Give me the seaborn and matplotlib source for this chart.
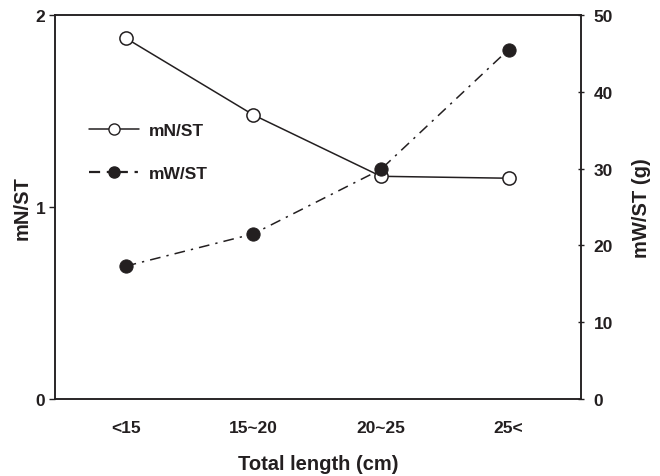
import pandas as pd
import seaborn as sns
import matplotlib.pyplot as plt
from matplotlib.lines import Line2D

# Data
length_classes = ['<15', '15~20', '20~25', '25<']
mn_st = [1.88, 1.48, 1.16, 1.15]
mw_st = [17.3, 21.5, 29.9, 45.5]

df = pd.DataFrame({'length': length_classes, 'mN/ST': mn_st, 'mW/ST': mw_st})

sns.set_style('white')
plt.rcParams['font.family'] = ['Liberation Sans', 'DejaVu Sans']
plt.rcParams['font.weight'] = 'bold'
ink = '#231f20'

fig = plt.figure(figsize=(6.6, 4.77), dpi=100)
ax = fig.add_axes([0.0833, 0.1614, 0.797, 0.805])
ax2 = ax.twinx()

# mN/ST, solid line with open circles
sns.lineplot(data=df, x='length', y='mN/ST', ax=ax, color=ink, lw=1.1,
             marker='o', markersize=9.5, markerfacecolor='white',
             markeredgecolor=ink, markeredgewidth=1.1, zorder=3)

# mW/ST, dash-dot line with filled circles
sns.lineplot(data=df, x='length', y='mW/ST', ax=ax2, color=ink, lw=1.1,
             marker='o', markersize=9.5, markerfacecolor=ink,
             markeredgecolor=ink, zorder=3)
ax2.lines[0].set_dashes([7, 4, 1.5, 4])

ax.set_xlim(-0.554, 3.568)
ax.set_ylim(0, 2)
ax2.set_ylim(0, 50)
ax.set_yticks([0, 1, 2])
ax2.set_yticks(range(0, 51, 10))

# categories as labels, ticks at the class boundaries
ax.set_xticks(range(len(length_classes)))
ax.set_xticklabels(length_classes)
ax.set_xticks([0.46, 1.5, 2.49], minor=True)
ax.tick_params(axis='x', which='major', length=0, pad=15, labelsize=12.5, colors=ink)
ax.tick_params(axis='x', which='minor', direction='in', length=4, width=1, color=ink)
ax.tick_params(axis='y', direction='out', length=4, width=1, pad=3, labelsize=12.5,
               colors=ink, left=True)
ax2.tick_params(axis='y', direction='inout', length=4, width=1, pad=7, labelsize=12.5,
                colors=ink, right=True)

ax.set_xlabel('Total length (cm)', fontsize=14.5, fontweight='bold', color=ink, labelpad=14)
ax.set_ylabel('mN/ST', fontsize=14.5, fontweight='bold', color=ink, labelpad=3)
ax2.set_ylabel('mW/ST (g)', fontsize=14.5, fontweight='bold', color=ink, labelpad=14)

for a in (ax, ax2):
    for sp in a.spines.values():
        sp.set_color(ink)
        sp.set_linewidth(1.1)

handles = [
    Line2D([], [], color=ink, lw=1.1, marker='o', markersize=8,
           markerfacecolor='white', markeredgecolor=ink),
    Line2D([], [], color=ink, lw=1.6, dashes=[5, 3, 1.5, 3], marker='o',
           markersize=8, markerfacecolor=ink, markeredgecolor=ink),
]
ax.legend(handles, ['mN/ST', 'mW/ST'], loc='upper left', bbox_to_anchor=(0.035, 0.76),
          frameon=False, fontsize=12.5, labelspacing=1.6, handlelength=2.9,
          handletextpad=0.55, labelcolor=ink)

fig.savefig('out.png', dpi=100)
